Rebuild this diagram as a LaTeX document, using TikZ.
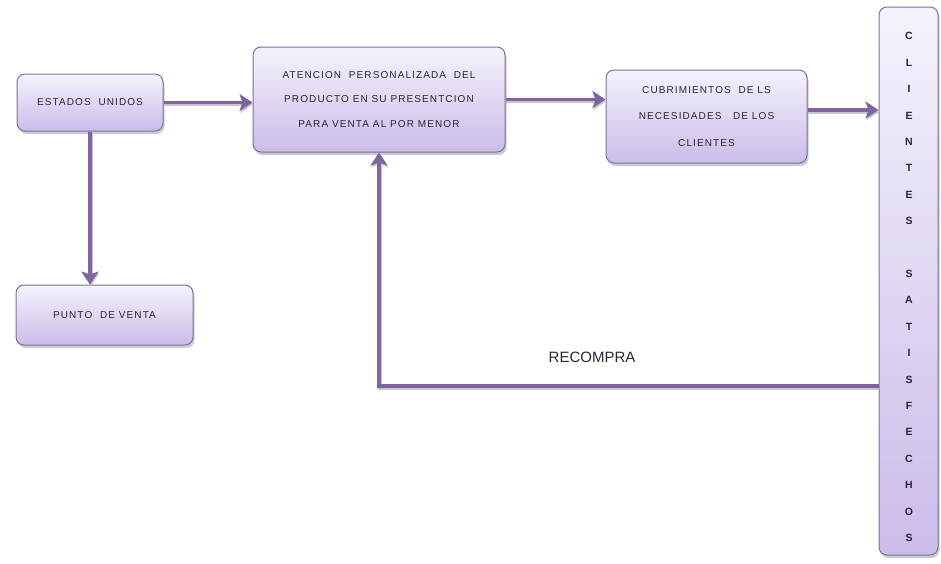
\documentclass[tikz,border=0pt]{standalone}
\usepackage{fontspec}
\setmainfont{Liberation Sans}
\newfontfamily\boxfont[LetterSpace=11]{Liberation Sans}
\usetikzlibrary{arrows.meta,shadows}
\definecolor{boxtop}{RGB}{246,242,252}
\definecolor{boxbot}{RGB}{203,188,233}
\definecolor{boxline}{RGB}{125,112,158}
\definecolor{arrowc}{RGB}{128,100,162}
\definecolor{txt}{RGB}{40,36,50}
\tikzset{
  box/.style={rectangle, rounded corners=8pt, draw=boxline, line width=1pt,
    top color=boxtop, bottom color=boxbot, inner sep=0pt, align=center,
    text=txt, font=\boxfont\fontsize{10}{24.5}\selectfont,
    drop shadow={shadow xshift=1.5pt, shadow yshift=-3pt, fill=black!45, opacity=0.45}},
  conn/.style={draw=arrowc, line width=3.5pt,
    preaction={draw=black!22, line width=3.5pt, transform canvas={xshift=0.8pt,yshift=-1.8pt}}},
  arr/.style={conn, -{Stealth[length=13pt,width=17pt,inset=3pt]}},
}
\begin{document}
\begin{tikzpicture}[x=1pt,y=-1pt]
\useasboundingbox (0,0) rectangle (941,563);
\node[box, minimum width=146pt, minimum height=57pt] (eu) at (90,102.5) {ESTADOS\ \ UNIDOS};
\node[box, minimum width=177pt, minimum height=60pt] (pv) at (104.5,315) {PUNTO\ \ DE VENTA};
\node[box, minimum width=252pt, minimum height=105pt] (at) at (379,99.5)
  {ATENCION\ \ PERSONALIZADA\ \ DEL\\PRODUCTO EN SU PRESENTCION\\PARA VENTA AL POR MENOR};
\node[box, minimum width=201pt, minimum height=93pt, font=\boxfont\fontsize{10}{26.5}\selectfont] (cu) at (706.5,116.5)
  {CUBRIMIENTOS\ \ DE LS\\NECESIDADES\ \ \ DE LOS\\CLIENTES};
\node[box, minimum width=59pt, minimum height=548pt] (cl) at (908.5,281) {};
\node[align=center, text=txt, font=\bfseries\fontsize{10.5}{26.4}\selectfont, inner sep=0pt] (clt) at (909,287)
  {C\\L\\I\\E\\N\\T\\E\\S\\\mbox{}\\S\\A\\T\\I\\S\\F\\E\\C\\H\\O\\S};
\draw[arr] (eu.east) -- (eu.east -| at.west);
\draw[arr] (eu.south) -- (eu.south |- pv.north);
\draw[arr] (at.east) -- (at.east -| cu.west);
\draw[arr] ([yshift=6.5pt]cu.east) -- ([yshift=6.5pt]cu.east -| cl.west);
\draw[arr] ([yshift=-105pt]cl.west) -| (at.south);
\node[font=\fontsize{15}{18}\selectfont, text=txt, inner sep=0pt] (rc) at (592,357) {RECOMPRA};
\end{tikzpicture}
\end{document}
